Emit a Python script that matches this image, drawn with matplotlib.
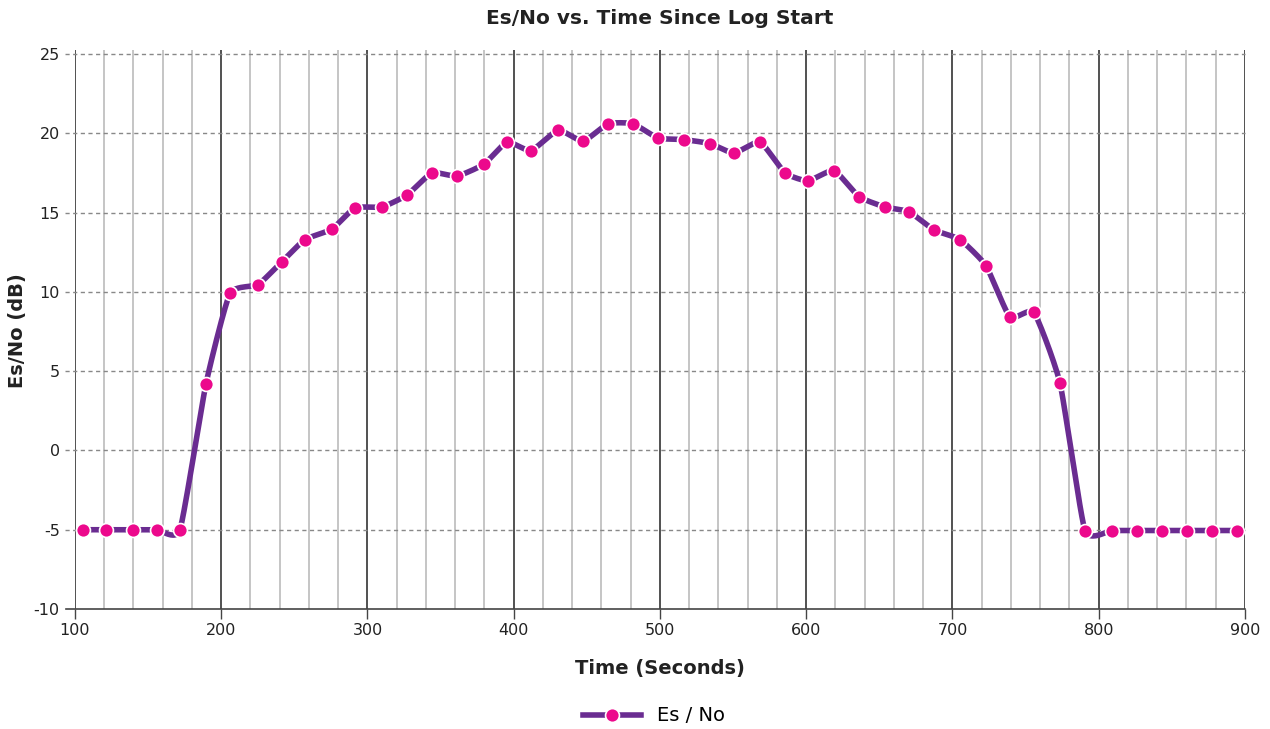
import numpy as np
import matplotlib
matplotlib.use('Agg')
import matplotlib.pyplot as plt
from matplotlib.lines import Line2D

# data
time_s = [105.5, 121.2, 139.7, 156.1, 171.8, 189.6, 206.0, 225.1, 241.5, 257.3,
          275.7, 291.5, 309.9, 327.0, 344.1, 361.2, 379.7, 395.4, 411.8, 430.3,
          447.4, 464.5, 481.6, 498.6, 516.4, 534.2, 550.6, 568.4, 585.5, 601.2,
          619.0, 636.1, 653.9, 670.3, 687.4, 705.1, 722.9, 739.3, 755.7, 773.5,
          790.6, 809.1, 826.2, 843.2, 860.3, 877.4, 894.5]
esno_db = [-5.0, -5.0, -5.0, -5.0, -5.0, 4.2, 9.9, 10.45, 11.9, 13.3,
           13.95, 15.3, 15.35, 16.1, 17.5, 17.3, 18.05, 19.45, 18.9, 20.2,
           19.5, 20.6, 20.6, 19.7, 19.6, 19.35, 18.75, 19.45, 17.5, 17.0,
           17.65, 16.0, 15.35, 15.05, 13.9, 13.3, 11.65, 8.4, 8.7, 4.25,
           -5.05, -5.05, -5.05, -5.05, -5.05, -5.05, -5.05]

line_color = '#6a2c91'
marker_color = '#ec098c'


def cardinal(x, y, tension=0.25, n=24):
    # smooth curve through the points, like the chart library does
    x = np.asarray(x, float)
    y = np.asarray(y, float)
    xs, ys = [], []
    t = np.linspace(0, 1, n, endpoint=False)
    h00 = 2 * t**3 - 3 * t**2 + 1
    h10 = t**3 - 2 * t**2 + t
    h01 = -2 * t**3 + 3 * t**2
    h11 = t**3 - t**2
    for i in range(len(x) - 1):
        p0 = max(i - 1, 0)
        p3 = min(i + 2, len(x) - 1)
        mx1 = tension * (x[i + 1] - x[p0])
        my1 = tension * (y[i + 1] - y[p0])
        mx2 = tension * (x[p3] - x[i])
        my2 = tension * (y[p3] - y[i])
        xs.append(h00 * x[i] + h10 * mx1 + h01 * x[i + 1] + h11 * mx2)
        ys.append(h00 * y[i] + h10 * my1 + h01 * y[i + 1] + h11 * my2)
    xs.append([x[-1]])
    ys.append([y[-1]])
    return np.concatenate(xs), np.concatenate(ys)


plt.rcParams['font.family'] = ['DejaVu Sans']
plt.rcParams['axes.unicode_minus'] = False

fig = plt.figure(figsize=(12.7, 7.29), dpi=100)
ax = fig.add_axes([0.059, 0.1646, 0.9213, 0.7668])

ax.set_xlim(100, 900)
ax.set_ylim(-10, 25.25)

# grid
for v in range(100, 901, 20):
    if v % 100 == 0:
        ax.axvline(v, color='#222222', lw=1.1, zorder=1)
    else:
        ax.axvline(v, color='#b5b5b5', lw=1.1, zorder=1)
for h in range(-5, 26, 5):
    ax.plot([93, 900], [h, h], color='#888888', lw=1, ls=(0, (3, 2.5)),
            zorder=1, clip_on=False)

cx, cy = cardinal(time_s, esno_db)
ax.plot(cx, cy, color=line_color, lw=4, zorder=3, solid_capstyle='round')
ax.plot(time_s, esno_db, ls='none', marker='o', ms=10, mfc=marker_color,
        mec='white', mew=1.2, zorder=4)

for s in ['top', 'right', 'left']:
    ax.spines[s].set_visible(False)
ax.spines['bottom'].set_color('#444444')
ax.spines['bottom'].set_linewidth(1.2)
ax.spines['bottom'].set_bounds(94, 900)

ax.set_xticks(range(100, 901, 100))
ax.set_yticks(range(-10, 26, 5))
ax.tick_params(axis='x', length=7, width=1, color='#444444', labelsize=11.5,
               labelcolor='#222222', pad=3)
ax.tick_params(axis='y', length=0, labelsize=11.5, labelcolor='#222222', pad=11)

ax.set_title('Es/No vs. Time Since Log Start', fontsize=14.5, fontweight='bold',
             color='#222222', pad=19)
ax.set_xlabel('Time (Seconds)', fontsize=14, fontweight='bold', color='#222222',
              labelpad=15)
fig.text(18 / 1270, 1 - 331 / 729, 'Es/No (dB)', rotation=90, ha='center',
         va='center', fontsize=14, fontweight='bold', color='#222222')

handle = Line2D([], [], color=line_color, lw=4, marker='o', ms=10,
                mfc=marker_color, mec='white', mew=1.2)
fig.legend([handle], ['Es / No'], loc='center', bbox_to_anchor=(0.515, 0.018),
           frameon=False, fontsize=14, handlelength=3.0, numpoints=1)

fig.savefig('out.png', dpi=100)
